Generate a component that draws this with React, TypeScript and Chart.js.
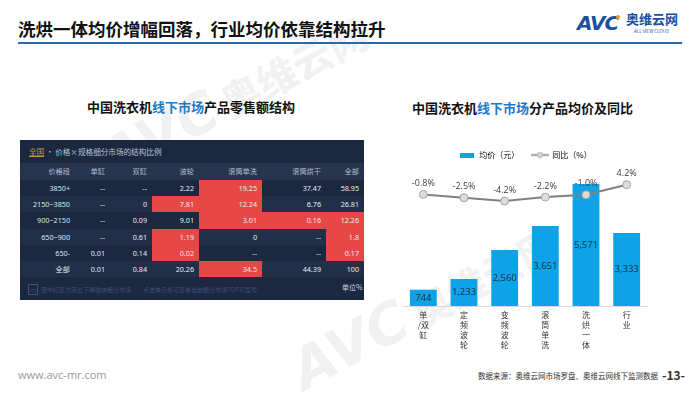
import React, { useEffect, useRef } from "react";
import { Chart, registerables } from "chart.js";

Chart.register(...registerables);

// ---------- Chart data ----------
const categories: string[][] = [
  ["单", "/双", "缸"],
  ["定", "频", "波", "轮"],
  ["变", "频", "波", "轮"],
  ["滚", "筒", "单", "洗"],
  ["洗", "烘", "一", "体"],
  ["行", "业"],
];
const avgPrice = [744, 1233, 2560, 3651, 5571, 3333];
const yoyChange = [-0.8, -2.5, -4.2, -2.2, -1.0, 4.2];
const seriesNames = ["均价（元）", "同比（%）"];

// ---------- Table data ----------
const tableColumns = ["价格段", "单缸", "双缸", "波轮", "滚筒单洗", "滚筒烘干", "全部"];
const priceBands = ["3850+", "2150~3850", "900~2150", "650~900", "650-", "全部"];
const shareSingleTub = ["--", "--", "--", "--", "0.01", "0.01"];
const shareTwinTub = ["--", "0", "0.09", "0.61", "0.14", "0.84"];
const sharePulsator = ["2.22", "7.81", "9.01", "1.19", "0.02", "20.26"];
const shareDrumWash = ["19.25", "12.24", "3.01", "0", "--", "34.5"];
const shareDrumDry = ["37.47", "6.76", "0.16", "--", "--", "44.39"];
const shareTotal = ["58.95", "26.81", "12.26", "1.8", "0.17", "100"];
// highlighted (red) cells per row, by value-column index
const redCells: number[][] = [[3], [2, 3], [3, 4, 5], [2, 5], [2, 5], [3]];

const BAR_BLUE = "#0ea2e6";
const CJK = '"Noto Sans CJK SC", "Noto Sans", sans-serif';

function makeIcon(kind: "bar" | "line"): HTMLCanvasElement {
  const c = document.createElement("canvas");
  if (kind === "bar") {
    c.width = 14;
    c.height = 5;
    const ctx = c.getContext("2d")!;
    ctx.fillStyle = BAR_BLUE;
    ctx.fillRect(0, 0, 14, 5);
  } else {
    c.width = 18;
    c.height = 7;
    const ctx = c.getContext("2d")!;
    ctx.strokeStyle = "#7f7f7f";
    ctx.lineWidth = 1.5;
    ctx.beginPath();
    ctx.moveTo(0, 3.5);
    ctx.lineTo(18, 3.5);
    ctx.stroke();
    ctx.beginPath();
    ctx.arc(9, 3.5, 2.5, 0, Math.PI * 2);
    ctx.fillStyle = "#e0e0e0";
    ctx.fill();
    ctx.strokeStyle = "#a0a0a0";
    ctx.lineWidth = 1;
    ctx.stroke();
  }
  return c;
}

const valueLabels = {
  id: "valueLabels",
  afterDatasetsDraw(chart: any) {
    const ctx = chart.ctx;
    ctx.save();
    ctx.textAlign = "center";
    ctx.textBaseline = "middle";
    ctx.font = '9.5px "Open Sans", "Noto Sans", sans-serif';
    ctx.fillStyle = "#1e2b3c";
    const barMeta = chart.getDatasetMeta(0);
    barMeta.data.forEach((el: any, i: number) => {
      const p = el.getProps(["x", "y", "base"], true);
      ctx.fillText(avgPrice[i].toLocaleString("en-US"), p.x, (p.y + p.base) / 2);
    });
    ctx.fillStyle = "#404040";
    ctx.font = '9px "Open Sans", "Noto Sans", sans-serif';
    const lineMeta = chart.getDatasetMeta(1);
    lineMeta.data.forEach((el: any, i: number) => {
      ctx.fillText(yoyChange[i].toFixed(1) + "%", el.x, el.y - 11);
    });
    ctx.restore();
  },
};

function PriceChart() {
  const ref = useRef<HTMLCanvasElement | null>(null);
  useEffect(() => {
    if (!ref.current) return;
    const barIcon = makeIcon("bar");
    const lineIcon = makeIcon("line");
    const chart = new Chart(ref.current, {
      type: "bar",
      data: {
        labels: categories as any,
        datasets: [
          {
            type: "bar",
            label: seriesNames[0],
            data: avgPrice,
            backgroundColor: BAR_BLUE,
            yAxisID: "y",
            categoryPercentage: 1,
            barPercentage: 0.66,
            order: 1,
          } as any,
          {
            type: "line",
            label: seriesNames[1],
            data: yoyChange,
            yAxisID: "y2",
            borderColor: "#808080",
            borderWidth: 2,
            pointRadius: 4,
            pointBackgroundColor: "#dcdcdc",
            pointBorderColor: "#a6a6a6",
            pointBorderWidth: 1,
            tension: 0,
            order: 0,
          } as any,
        ],
      },
      options: {
        animation: false,
        responsive: false,
        devicePixelRatio: 1,
        layout: { padding: { left: 23, right: 33, top: 4, bottom: 0 } },
        plugins: {
          tooltip: { enabled: false },
          legend: {
            display: true,
            position: "top",
            labels: {
              usePointStyle: true,
              pointStyleWidth: 17,
              boxHeight: 8,
              padding: 12,
              color: "#595959",
              font: { size: 8, family: CJK },
              generateLabels: () => [
                { text: seriesNames[0], pointStyle: barIcon as any, fillStyle: BAR_BLUE, strokeStyle: BAR_BLUE, lineWidth: 0, datasetIndex: 0, hidden: false } as any,
                { text: seriesNames[1], pointStyle: lineIcon as any, fillStyle: "#808080", strokeStyle: "#808080", lineWidth: 0, datasetIndex: 1, hidden: false } as any,
              ],
            },
          },
        },
        scales: {
          x: {
            grid: { display: false, drawTicks: false },
            border: { display: true, color: "#d9d9d9", width: 1 },
            ticks: {
              color: "#333333",
              font: { size: 8, family: CJK, lineHeight: 1.25 },
              padding: 4,
              maxRotation: 0,
              autoSkip: false,
            },
            afterFit: (scale: any) => {
              scale.height = 59;
            },
          },
          y: { display: false, min: 0, max: 6256 },
          y2: { display: false, min: -58.3, max: 12.29, position: "right" },
        },
      } as any,
      plugins: [valueLabels],
    });
    return () => chart.destroy();
  }, []);
  return (
    <canvas
      ref={ref}
      width={300}
      height={230}
      style={{ position: "absolute", left: 380, top: 135, width: 300, height: 230 }}
    />
  );
}

function ShareTable() {
  const left = [0, 55, 90, 132, 179, 242, 306];
  const right = [55, 90, 132, 179, 242, 306, 344];
  const valueCols = [shareSingleTub, shareTwinTub, sharePulsator, shareDrumWash, shareDrumDry, shareTotal];
  const rowH = 16.2;
  const cellText = (text: string, col: number, top: number, h: number, color: string, bg?: string, key?: string) => (
    <div
      key={key}
      style={{
        position: "absolute",
        left: left[col],
        top,
        width: right[col] - left[col],
        height: h,
        lineHeight: h + "px",
        textAlign: "right",
        paddingRight: 5,
        boxSizing: "border-box",
        color,
        background: bg,
        whiteSpace: "nowrap",
      }}
    >
      {text}
    </div>
  );
  return (
    <div
      style={{
        position: "absolute",
        left: 20,
        top: 140,
        width: 344,
        height: 160,
        background: "#1c2740",
        fontFamily: '"Noto Sans", "Noto Sans CJK SC", sans-serif',
        fontSize: 7.2,
      }}
    >
      <div style={{ position: "absolute", left: 9, top: 0, height: 23, lineHeight: "23px", fontSize: 7.6, color: "#b9c2d2", fontFamily: CJK, whiteSpace: "nowrap" }}>
        <span style={{ color: "#c8953e", textDecoration: "underline" }}>全国</span>
        <span> • 价格×规格细分市场的结构比例</span>
      </div>
      <div style={{ position: "absolute", left: 0, top: 23, width: 344, height: 17, background: "#26344e" }} />
      {tableColumns.map((c, i) => cellText(c, i, 23, 17, "#b5bfcf", undefined, "h" + i))}
      {priceBands.map((band, r) => (
        <React.Fragment key={"r" + r}>
          <div style={{ position: "absolute", left: 0, top: 40 + r * rowH, width: 344, height: rowH, background: r % 2 === 0 ? "#1c2740" : "#222f49" }} />
          {cellText(band, 0, 40 + r * rowH, rowH, "#dfe5ee", undefined, "b" + r)}
          {valueCols.map((col, c) =>
            cellText(col[r], c + 1, 40 + r * rowH, rowH, "#e8ecf2", redCells[r].includes(c) ? "#e84748" : undefined, "v" + r + "-" + c)
          )}
        </React.Fragment>
      ))}
      <div style={{ position: "absolute", left: 8, top: 145, fontSize: 6, color: "#3d5079", fontFamily: CJK, whiteSpace: "nowrap", lineHeight: "10px" }}>
        <span style={{ border: "1px solid #3d5079", padding: "0 1px", marginRight: 3 }}>▭</span>
        图中红区为突出下降较快细分市场
        <span style={{ marginLeft: 12 }}>点击单元格可查看当前细分市场TOP10型号</span>
      </div>
      <div style={{ position: "absolute", left: 322, top: 142, fontSize: 7, color: "#c9d0dc", fontFamily: CJK, whiteSpace: "nowrap" }}>单位%</div>
    </div>
  );
}

function Watermark({ left, top }: { left: number; top: number }) {
  return (
    <div
      style={{
        position: "absolute",
        left,
        top,
        transform: "rotate(-28deg)",
        transformOrigin: "0 0",
        color: "#f1f1f1",
        whiteSpace: "nowrap",
        pointerEvents: "none",
      }}
    >
      <span style={{ fontSize: 56, fontWeight: 700, fontStyle: "italic", fontFamily: '"DejaVu Sans", sans-serif' }}>AVC</span>
      <span style={{ fontSize: 40, fontWeight: 700, marginLeft: 8 }}>奥维云网</span>
    </div>
  );
}

export default function App() {
  return (
    <div
      style={{
        position: "fixed",
        left: 0,
        top: 0,
        width: 700,
        height: 394,
        background: "#ffffff",
        overflow: "hidden",
        fontFamily: CJK,
      }}
    >
      <Watermark left={90} top={135} />
      <Watermark left={280} top={345} />

      <div style={{ position: "absolute", left: 18, top: 16, fontSize: 17.5, lineHeight: "26px", fontWeight: 700, color: "#111", whiteSpace: "nowrap" }}>
        洗烘一体均价增幅回落，行业均价依靠结构拉升
      </div>
      <div style={{ position: "absolute", left: 18, top: 42, width: 664, height: 2, background: "#2a67ad" }} />
      {/* logo */}
      <div style={{ position: "absolute", left: 577, top: 10, fontSize: 20, fontWeight: 700, fontStyle: "italic", color: "#1b4f9f", fontFamily: '"DejaVu Sans", sans-serif', lineHeight: "26px", letterSpacing: -1 }}>
        AVC
      </div>
      <div style={{ position: "absolute", left: 616, top: 15, width: 4, height: 4, borderRadius: 2, background: "#f39a1e" }} />
      <div style={{ position: "absolute", left: 626, top: 11, fontSize: 13, fontWeight: 700, color: "#1b4f9f", lineHeight: "16px", whiteSpace: "nowrap" }}>奥维云网</div>
      <div style={{ position: "absolute", left: 634, top: 28, fontSize: 4.5, color: "#1b4f9f", lineHeight: "6px", whiteSpace: "nowrap" }}>ALL VIEW CLOUD</div>

      <div style={{ position: "absolute", left: 87, top: 97, fontSize: 13, fontWeight: 700, color: "#111", lineHeight: "20px", whiteSpace: "nowrap" }}>
        中国洗衣机<span style={{ color: "#1f78c8" }}>线下市场</span>产品零售额结构
      </div>
      <div style={{ position: "absolute", left: 412, top: 98, fontSize: 13, fontWeight: 700, color: "#111", lineHeight: "20px", whiteSpace: "nowrap" }}>
        中国洗衣机<span style={{ color: "#1f78c8" }}>线下市场</span>分产品均价及同比
      </div>

      <ShareTable />
      <PriceChart />

      <div style={{ position: "absolute", left: 18, top: 367, fontSize: 11, color: "#9a9a9a", fontFamily: '"Open Sans", sans-serif', whiteSpace: "nowrap" }}>www.avc-mr.com</div>
      <div style={{ position: "absolute", left: 478, top: 370, fontSize: 7.5, color: "#333", whiteSpace: "nowrap" }}>数据来源：奥维云网市场罗盘、奥维云网线下监测数据</div>
      <div style={{ position: "absolute", left: 662, top: 366, fontSize: 12, fontWeight: 700, color: "#333", whiteSpace: "nowrap" }}>-13-</div>
    </div>
  );
}
